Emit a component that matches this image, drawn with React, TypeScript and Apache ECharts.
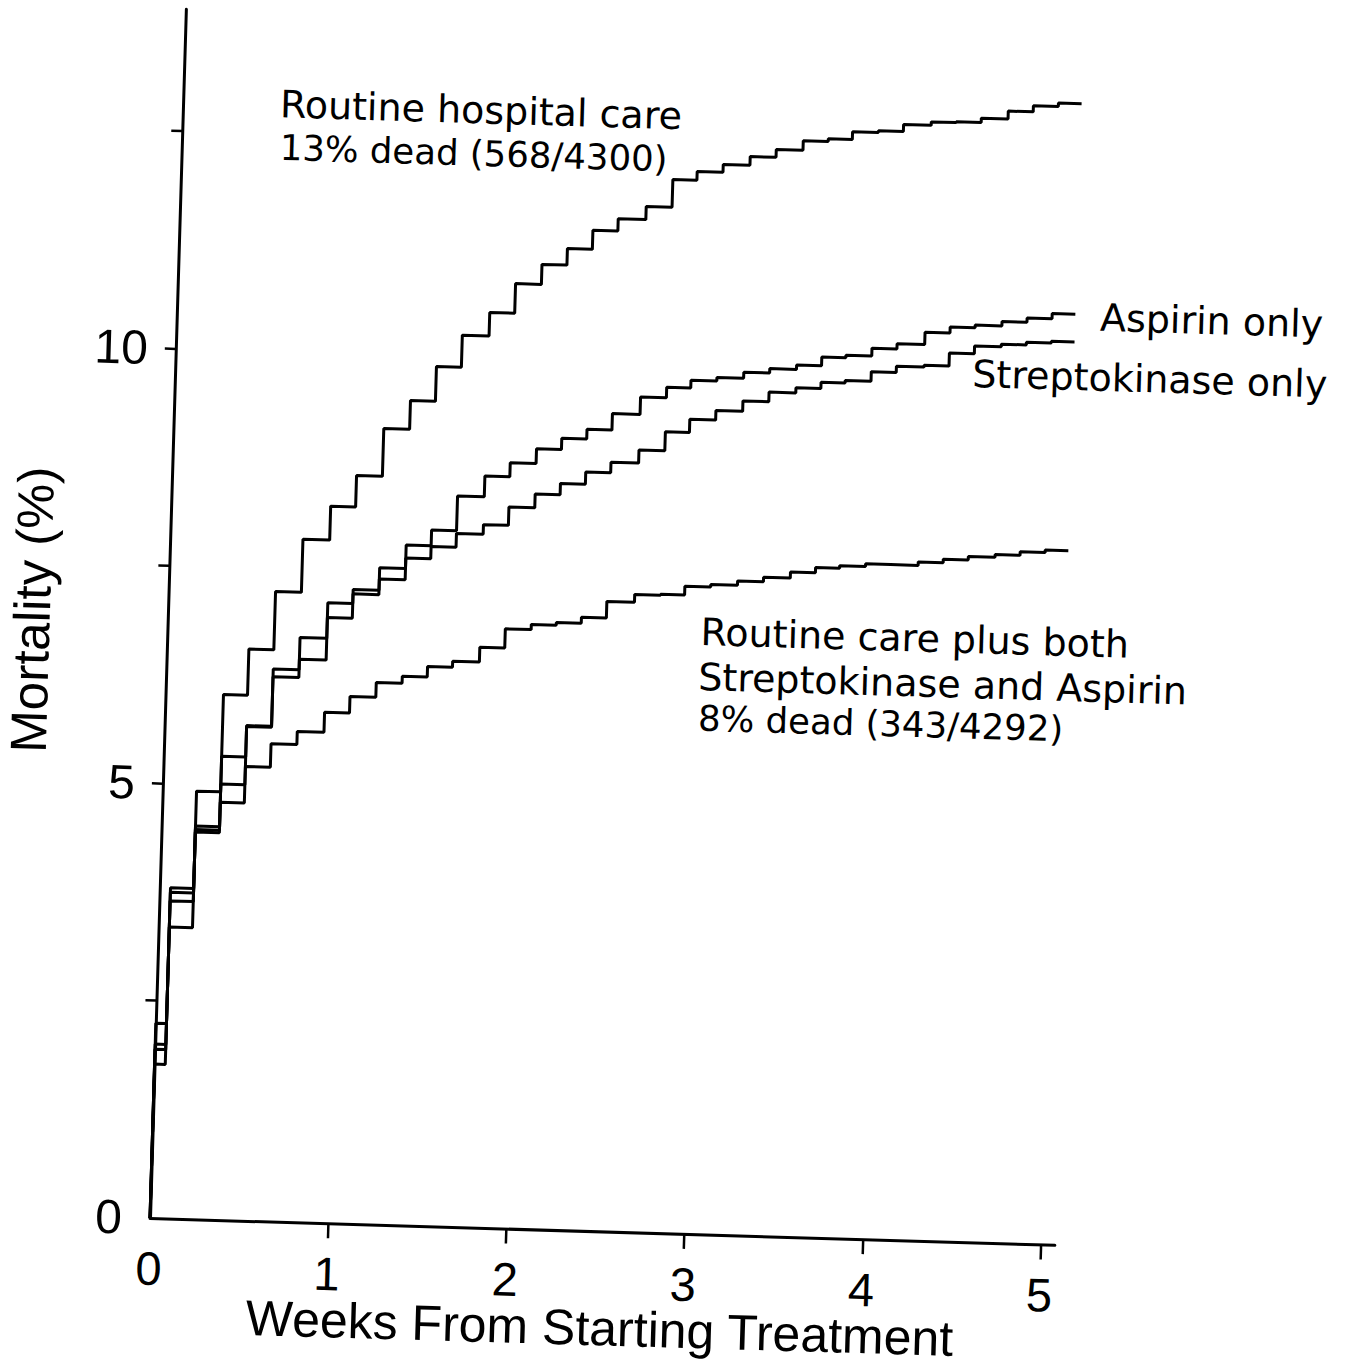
import React, { useEffect, useRef } from "react";
import * as echarts from "echarts";

// Step times (weeks from starting treatment) at which the survival curves step
const stepWeeks = [0, 0.06, 0.19, 0.325, 0.46, 0.6, 0.745, 0.895, 1.035, 1.18, 1.325, 1.465, 1.605, 1.755, 1.895, 2.04, 2.18, 2.32, 2.46, 2.615, 2.76, 2.895, 3.04, 3.19, 3.335, 3.485, 3.625, 3.76, 3.905, 4.045, 4.2, 4.34, 4.48, 4.63, 4.77, 4.91];
const endWeek = 5.04;

// Cumulative mortality (%) held from each step time
const routineCare = [2.24, 3.8, 4.92, 6.04, 6.57, 7.24, 7.85, 8.24, 8.6, 9.15, 9.48, 9.88, 10.25, 10.52, 10.86, 11.09, 11.28, 11.5, 11.64, 11.79, 12.11, 12.21, 12.3, 12.4, 12.49, 12.6, 12.63, 12.72, 12.74, 12.82, 12.86, 12.87, 12.92, 13.01, 13.08, 13.12];
const aspirinOnly = [2.0, 3.75, 4.52, 5.33, 5.69, 6.35, 6.72, 7.13, 7.29, 7.55, 7.82, 8.0, 8.4, 8.64, 8.8, 8.97, 9.1, 9.21, 9.4, 9.6, 9.72, 9.81, 9.85, 9.92, 9.97, 10.02, 10.12, 10.15, 10.24, 10.3, 10.44, 10.51, 10.54, 10.59, 10.64, 10.7];
const streptokinaseOnly = [1.94, 3.65, 4.48, 5.01, 5.68, 6.26, 6.47, 6.96, 7.24, 7.42, 7.67, 7.81, 7.97, 8.08, 8.29, 8.45, 8.58, 8.72, 8.84, 8.99, 9.21, 9.36, 9.47, 9.59, 9.7, 9.76, 9.83, 9.86, 9.97, 10.04, 10.06, 10.21, 10.3, 10.33, 10.36, 10.38];
const bothTreatments = [1.77, 3.35, 4.45, 4.8, 5.22, 5.49, 5.64, 5.87, 6.06, 6.23, 6.31, 6.43, 6.5, 6.67, 6.89, 6.95, 6.98, 7.05, 7.24, 7.33, 7.34, 7.44, 7.47, 7.52, 7.57, 7.64, 7.7, 7.73, 7.76, 7.76, 7.8, 7.84, 7.88, 7.91, 7.95, 7.98];

const xTickValues = [1, 2, 3, 4, 5];
const xLabelValues = [0, 1, 2, 3, 4, 5];
const yTickValues = [2.5, 5, 7.5, 10, 12.5];
const yLabelValues = [0, 5, 10];

const annotations = [
  { text: "Routine hospital care", x: 287, y: 121, size: 38 },
  { text: "13% dead (568/4300)", x: 288, y: 164, size: 35.5 },
  { text: "Aspirin only", x: 1113, y: 310, size: 38 },
  { text: "Streptokinase only", x: 987, y: 370, size: 38 },
  { text: "Routine care plus both", x: 723, y: 636, size: 38 },
  { text: "Streptokinase and Aspirin", x: 722, y: 681, size: 38 },
  { text: "8% dead (343/4292)", x: 723, y: 722, size: 35.5 },
];

function stepData(values: number[]) {
  const pts: number[][] = [[0, 0]];
  values.forEach((v, i) => pts.push([stepWeeks[i], v]));
  pts.push([endWeek, values[values.length - 1]]);
  return pts;
}

const Y_MAX = 13.9;
const X_MAX = 5.08;
const PX_PER_WEEK = 178.2;
const PX_PER_PCT = 87;
const ORIGIN_X = 190;
const ORIGIN_Y = 1238;

export default function App() {
  const ref = useRef<HTMLDivElement>(null);
  useEffect(() => {
    const chart = echarts.init(ref.current!, null, { renderer: "svg" });
    const gridH = Y_MAX * PX_PER_PCT;
    const gridW = X_MAX * PX_PER_WEEK;
    const lineSeries = (name: string, values: number[]) => ({
      name,
      type: "line",
      step: "end",
      data: stepData(values),
      symbol: "none",
      clip: false,
      lineStyle: { color: "#000", width: 3 },
    });
    chart.setOption({
      animation: false,
      backgroundColor: "#fff",
      grid: {
        left: ORIGIN_X,
        top: ORIGIN_Y - gridH,
        width: gridW,
        height: gridH,
        containLabel: false,
        outerBoundsMode: "none",
      },
      xAxis: {
        type: "value",
        min: 0,
        max: X_MAX,
        name: "Weeks From Starting Treatment",
        nameLocation: "middle",
        nameGap: 72,
        nameMoveOverlap: false,
        nameTextStyle: { fontSize: 50, lineHeight: 50, color: "#000", fontFamily: "Liberation Sans" },
        axisLine: { lineStyle: { color: "#000", width: 3 } },
        axisTick: { customValues: xTickValues, length: 15, lineStyle: { color: "#000", width: 2.5 } },
        axisLabel: { customValues: xLabelValues, fontSize: 47, margin: 27, color: "#000", fontFamily: "Liberation Sans" },
        splitLine: { show: false },
      },
      yAxis: {
        type: "value",
        min: 0,
        max: Y_MAX,
        name: "Mortality (%)",
        nameLocation: "middle",
        nameGap: 110,
        nameRotate: 90,
        nameMoveOverlap: false,
        nameTextStyle: { fontSize: 51, color: "#000", fontFamily: "Liberation Sans" },
        axisLine: { show: true, lineStyle: { color: "#000", width: 3 } },
        axisTick: { show: true, customValues: yTickValues, length: 11, lineStyle: { color: "#000", width: 2.5 } },
        axisLabel: { customValues: yLabelValues, fontSize: 48, margin: 28, color: "#000", fontFamily: "Liberation Sans" },
        splitLine: { show: false },
      },
      series: [
        lineSeries("Routine hospital care", routineCare),
        lineSeries("Aspirin only", aspirinOnly),
        lineSeries("Streptokinase only", streptokinaseOnly),
        lineSeries("Streptokinase and Aspirin", bothTreatments),
      ],
      graphic: annotations.map((a) => ({
        type: "text",
        x: a.x,
        y: a.y,
        style: {
          text: a.text,
          fill: "#000",
          font: `${a.size}px "DejaVu Sans"`,
          verticalAlign: "middle",
          align: "left",
        },
      })),
    });
    return () => chart.dispose();
  }, []);
  return (
    <div style={{ position: "fixed", left: 0, top: 0, width: 1348, height: 1371, overflow: "hidden", background: "#fff" }}>
      <div
        ref={ref}
        style={{
          position: "absolute",
          left: -40,
          top: -20,
          width: 1440,
          height: 1420,
          transform: "rotate(1.7deg)",
          transformOrigin: `${ORIGIN_X}px ${ORIGIN_Y}px`,
        }}
      />
    </div>
  );
}
